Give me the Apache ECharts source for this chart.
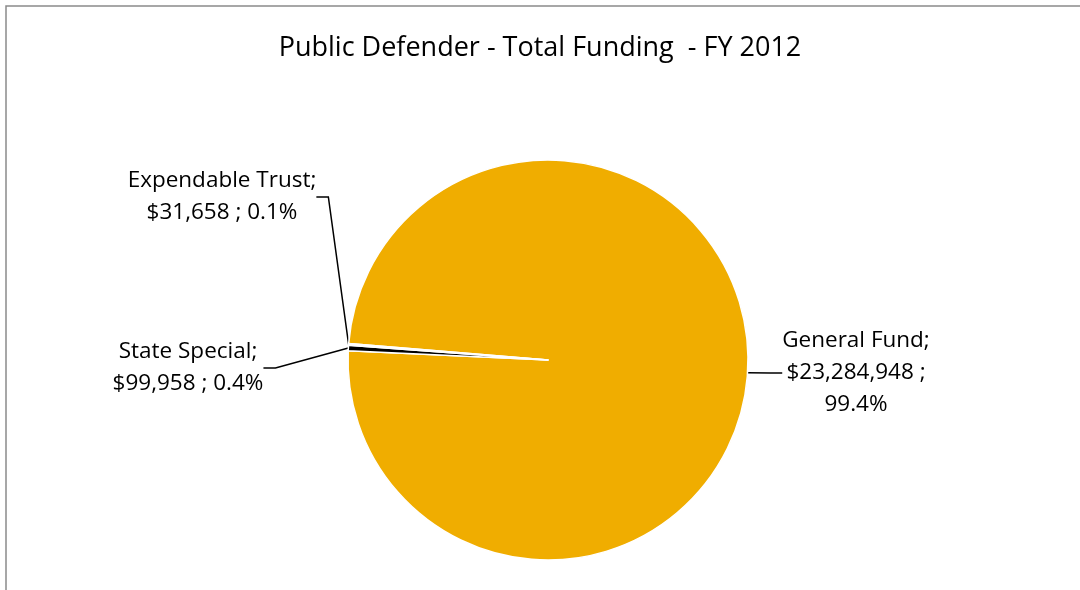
<!DOCTYPE html>
<html>
<head>
<meta charset="utf-8">
<style>
  html, body { margin: 0; padding: 0; background: #fff; }
  #chart { width: 1080px; height: 590px; }
</style>
<script src="https://cdn.jsdelivr.net/npm/echarts@6/dist/echarts.min.js"></script>
</head>
<body>
<div id="chart"></div>
<script>
// Funding sources, FY 2012 (dollars)
const categories = ['General Fund', 'State Special', 'Expendable Trust'];
const amounts = [23284948, 99958, 31658];
const colors = ['#F0AD00', '#000000', '#FFFFFF'];

// Where each label block sits (centre of the text block)
const labelSpots = [
  { x: 856, y: 373 },
  { x: 188, y: 368 },
  { x: 222, y: 197 }
];

const total = amounts.reduce((a, b) => a + b, 0);
const money = v => '$' + v.toLocaleString('en-US');
const pct = v => (v / total * 100).toFixed(1) + '%';

const chart = echarts.init(document.getElementById('chart'), null, { renderer: 'canvas' });
const FONT = '"Open Sans", "Noto Sans", sans-serif';

chart.setOption({
  animation: false,
  backgroundColor: '#fff',
  title: {
    text: 'Public Defender - Total Funding  - FY 2012',
    left: 'center',
    top: 30,
    textStyle: { fontFamily: FONT, fontSize: 27, fontWeight: 'normal', color: '#000' }
  },
  graphic: [{
    type: 'rect',
    shape: { x: 6, y: 6, width: 1200, height: 700 },
    style: { fill: 'none', stroke: '#8a8a8a', lineWidth: 1.5 },
    silent: true
  }],
  series: [{
    type: 'pie',
    center: [548, 360],
    radius: 200,
    startAngle: 175.3,
    clockwise: true,
    avoidLabelOverlap: false,
    itemStyle: { borderColor: '#fff', borderWidth: 1.5 },
    label: {
      show: true,
      fontFamily: FONT,
      fontSize: 22.5,
      lineHeight: 32,
      color: '#000',
      align: 'center',
      formatter: p => {
        if (p.dataIndex === 0) return p.name + ';\n' + money(p.value) + ' ;\n' + pct(p.value);
        return p.name + ';\n' + money(p.value) + ' ; ' + pct(p.value);
      }
    },
    labelLine: {
      show: true,
      length: 15,
      length2: 12,
      lineStyle: { color: '#000', width: 1.5 }
    },
    labelLayout: params => {
      const s = labelSpots[params.dataIndex];
      return { x: s.x, y: s.y, align: 'center', verticalAlign: 'middle' };
    },
    data: categories.map((name, i) => ({
      name,
      value: amounts[i],
      itemStyle: { color: colors[i] }
    }))
  }]
});
</script>
</body>
</html>
